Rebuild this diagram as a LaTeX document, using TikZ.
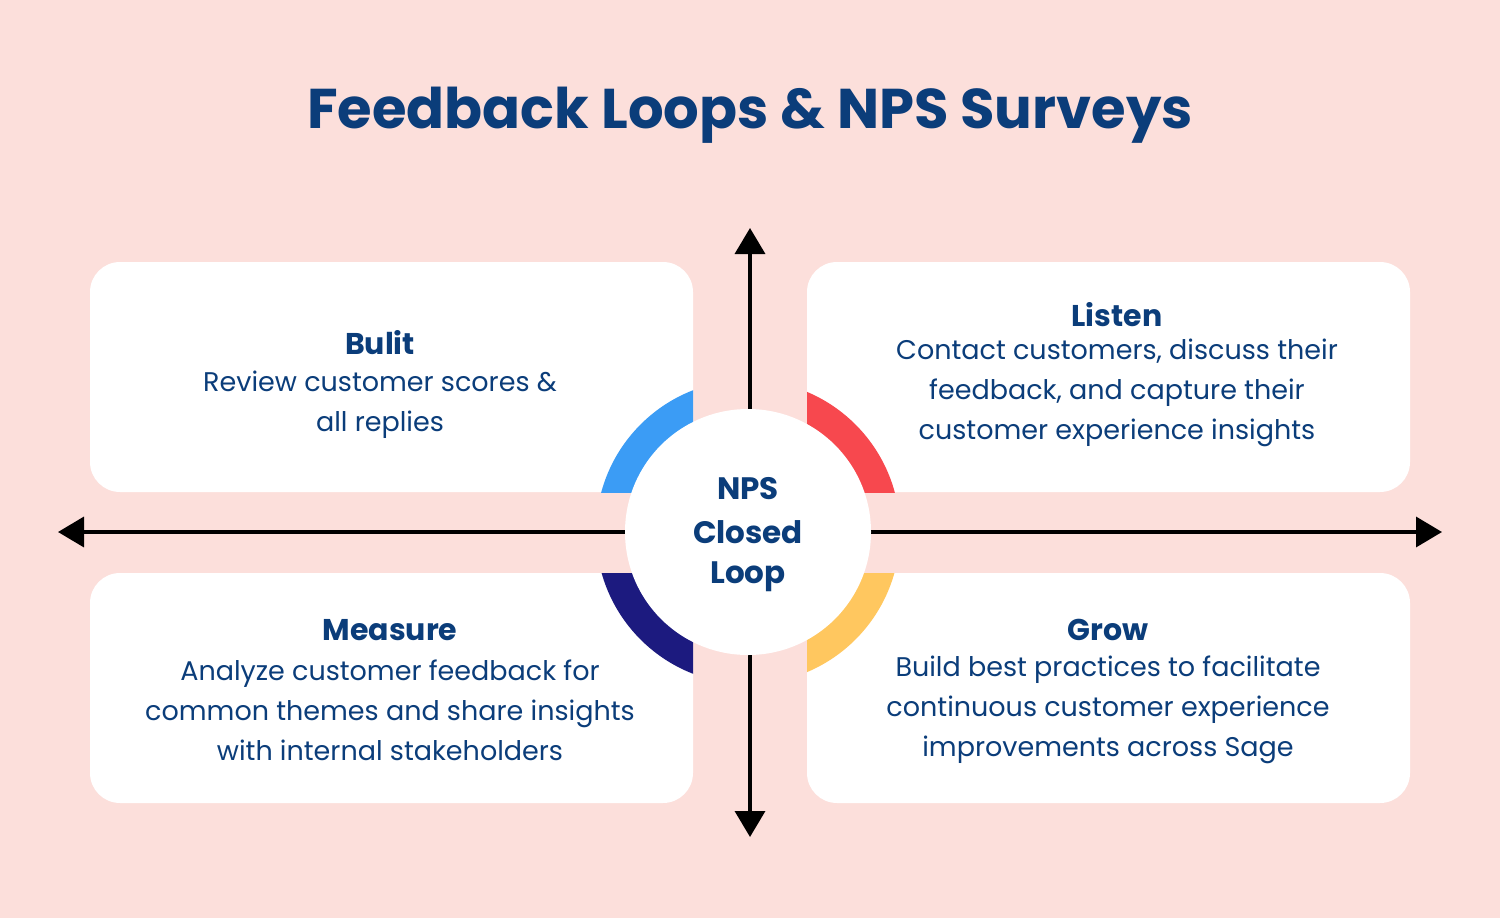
\documentclass[tikz,border=0pt]{standalone}
\usepackage{fontspec}
\setmainfont{Poppins}
\usetikzlibrary{arrows.meta}
\definecolor{bg}{HTML}{FCDFDB}
\definecolor{ink}{HTML}{0B3D7A}
\definecolor{cblue}{HTML}{3B9CF5}
\definecolor{cred}{HTML}{F7484E}
\definecolor{cyel}{HTML}{FFC75F}
\definecolor{cnavy}{HTML}{1C1A7F}
\begin{document}
\begin{tikzpicture}[x=1pt,y=-1pt,
  box/.style={fill=white,rounded corners=30pt},
  hd/.style={text=ink,font=\fontsize{30}{34}\selectfont\bfseries,anchor=center},
  bd/.style={text=ink,font=\fontsize{27}{40}\selectfont,align=center,anchor=center},
  ax/.style={line width=3.5pt,-{Triangle[length=26pt,width=30pt]}}]
\fill[bg] (0,0) rectangle (1500,918);
\useasboundingbox (0,0) rectangle (1500,918);
\node[text=ink,font=\fontsize{56}{64}\selectfont\bfseries] (title) at (750,115) {Feedback Loops \& NPS Surveys};
\coordinate (c) at (748,532);
\coordinate (n) at (750,228);
\coordinate (s) at (750,837);
\coordinate (w) at (58,532);
\coordinate (e) at (1442,532);
\draw[ax] (750,532) -- (n);
\draw[ax] (750,532) -- (s);
\draw[ax] (c) -- (w);
\draw[ax] (c) -- (e);
\foreach \a/\b/\c/\d/\col in {90/262/693/492/cblue,807/262/1410/492/cred,90/573/693/803/cnavy,807/573/1410/803/cyel}{
  \fill[box] (\a,\b) rectangle (\c,\d);
  \begin{scope}
    \clip (\a,\b) rectangle (\c,\d);
    \fill[\col] (748,532) circle[radius=152pt];
  \end{scope}
}
\node[circle,fill=white,minimum size=246pt,inner sep=0pt] (hub) at (c) {};
\node[hd,font=\fontsize{31}{34}\selectfont\bfseries] (t1) at (748,489) {NPS};
\node[hd,font=\fontsize{31}{34}\selectfont\bfseries] (t2) at (748,532) {Closed};
\node[hd,font=\fontsize{31}{34}\selectfont\bfseries] (t3) at (748,577) {Loop};
\node[hd] (h1) at (380,343) {Bulit};
\node[bd] (b1) at (380,405) {Review customer scores \&\\all replies};
\node[hd] (h2) at (1117,315) {Listen};
\node[bd] (b2) at (1117,393) {Contact customers, discuss their\\feedback, and capture their\\customer experience insights};
\node[hd] (h3) at (390,630) {Measure};
\node[bd] (b3) at (390,710) {Analyze customer feedback for\\common themes and share insights\\with internal stakeholders};
\node[hd] (h4) at (1108,630) {Grow};
\node[bd] (b4) at (1108,710) {Build best practices to facilitate\\continuous customer experience\\improvements across Sage};
\end{tikzpicture}
\end{document}
